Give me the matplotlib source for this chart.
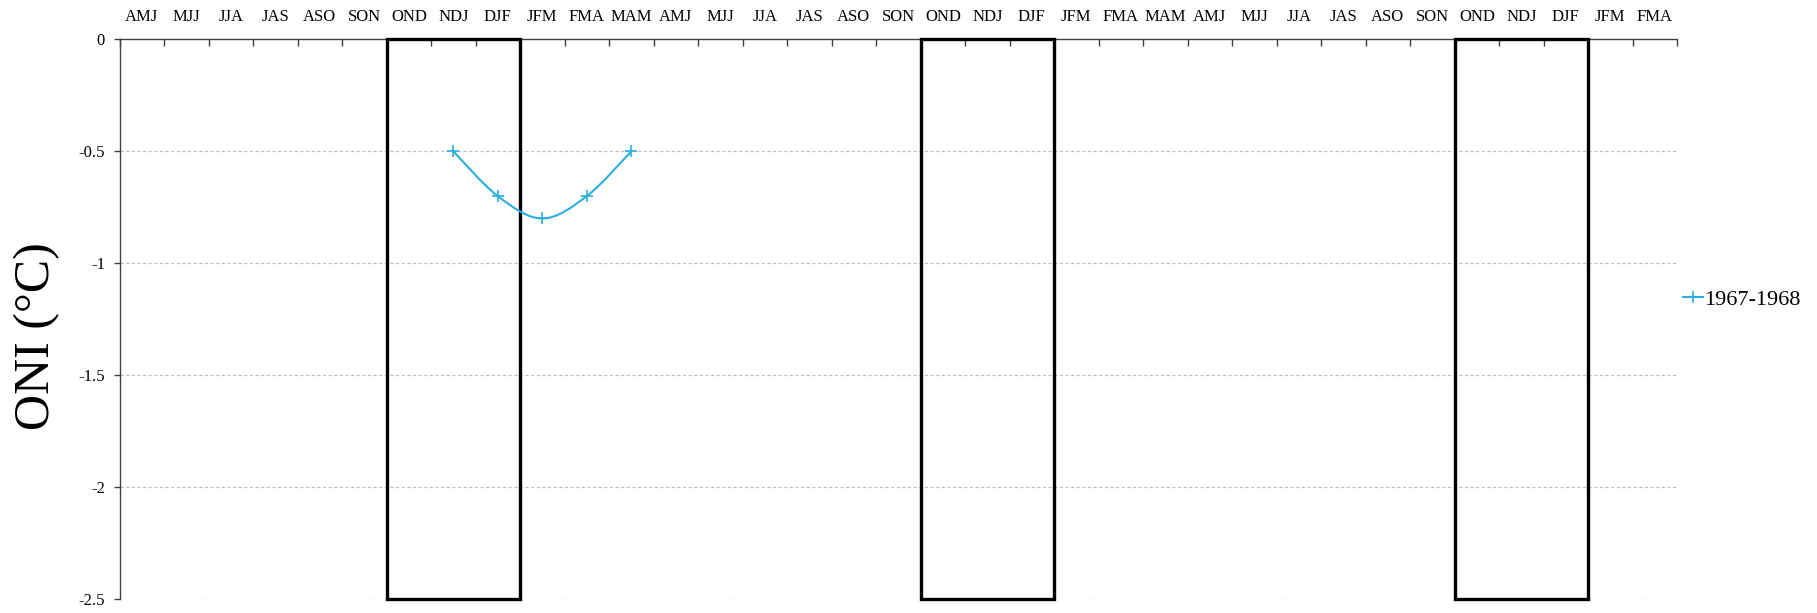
import matplotlib
matplotlib.use("Agg")

import matplotlib.pyplot as plt
from matplotlib.patches import Rectangle, PathPatch
from matplotlib.path import Path
from matplotlib.lines import Line2D

plt.rcParams["font.family"] = ["Liberation Serif", "DejaVu Serif"]

# three-month seasons along the top axis
seasons = ["AMJ", "MJJ", "JJA", "JAS", "ASO", "SON", "OND", "NDJ", "DJF", "JFM", "FMA", "MAM",
           "AMJ", "MJJ", "JJA", "JAS", "ASO", "SON", "OND", "NDJ", "DJF", "JFM", "FMA", "MAM",
           "AMJ", "MJJ", "JJA", "JAS", "ASO", "SON", "OND", "NDJ", "DJF", "JFM", "FMA"]

# ONI series 1967-1968
series_name = "1967-1968"
series_idx = [7, 8, 9, 10, 11]          # NDJ .. MAM of the first winter
series_oni = [-0.5, -0.7, -0.8, -0.7, -0.5]

# winter window outlined with a box (OND-NDJ-DJF)
winter = ["OND", "NDJ", "DJF"]

yticks = [0, -0.5, -1, -1.5, -2, -2.5]
ytick_labels = ["0", "-0.5", "-1", "-1.5", "-2", "-2.5"]
ymin, ymax = -2.5, 0

line_color = "#2BAEE0"

fig = plt.figure(figsize=(18.17, 6.13), dpi=100)
ax = fig.add_axes([0.0658, 0.0228, 0.923 - 0.0658, 0.9357 - 0.0228])

n = len(seasons)
ax.set_xlim(0, n)
ax.set_ylim(ymin, ymax)

# gridlines
for y in yticks[1:]:
    ax.axhline(y, color="#BFBFBF", lw=0.9, ls=(0, (2.5, 2)), zorder=1)

# winter boxes
i = 0
while i <= n - len(winter):
    if seasons[i:i + len(winter)] == winter:
        ax.add_patch(Rectangle((i, ymin), len(winter), ymax - ymin, fill=False,
                               ec="black", lw=2.4, zorder=3, clip_on=False))
        i += len(winter)
    else:
        i += 1

# smoothed series line (Catmull-Rom style bezier through the points)
xs = [k + 0.5 for k in series_idx]
pts = list(zip(xs, series_oni))
verts = [pts[0]]
codes = [Path.MOVETO]
for k in range(len(pts) - 1):
    p0 = pts[k - 1] if k > 0 else pts[k]
    p1 = pts[k]
    p2 = pts[k + 1]
    p3 = pts[k + 2] if k + 2 < len(pts) else pts[k + 1]
    c1 = (p1[0] + (p2[0] - p0[0]) / 6, p1[1] + (p2[1] - p0[1]) / 6)
    c2 = (p2[0] - (p3[0] - p1[0]) / 6, p2[1] - (p3[1] - p1[1]) / 6)
    verts += [c1, c2, p2]
    codes += [Path.CURVE4] * 3
ax.add_patch(PathPatch(Path(verts, codes), fill=False, ec=line_color, lw=1.5, zorder=4))
ax.plot(xs, series_oni, ls="none", marker="+", ms=9, mew=1.2, color=line_color, zorder=5)

# axes styling
for side in ["bottom", "right"]:
    ax.spines[side].set_visible(False)
ax.spines["top"].set_color("#404040")
ax.spines["top"].set_linewidth(1.0)
ax.spines["left"].set_color("#404040")
ax.spines["left"].set_linewidth(1.0)

ax.set_yticks(yticks)
ax.set_yticklabels(ytick_labels)
ax.tick_params(axis="y", direction="out", length=4.5, width=1, color="#404040",
               labelsize=12, pad=6)

ax.xaxis.set_ticks_position("top")
ax.set_xticks(range(n + 1))
ax.set_xticklabels([])
ax.set_xticks([k + 0.5 for k in range(n)], minor=True)
ax.set_xticklabels(seasons, minor=True)
ax.tick_params(axis="x", which="major", direction="in", length=5, width=1, color="#404040",
               top=True, bottom=False)
ax.tick_params(axis="x", which="minor", length=0, labelsize=12, pad=10.5, top=True, bottom=False,
               labeltop=True, labelbottom=False)

fig.text(0.0202, 0.451, "ONI (°C)", rotation=90, fontsize=36, ha="center", va="center")

handle = Line2D([], [], color=line_color, lw=1.5, marker="+", ms=9, mew=1.2)
fig.legend([handle], [series_name], loc="center left", bbox_to_anchor=(0.915, 0.511),
           frameon=False, fontsize=16, handlelength=0.9, handletextpad=0.05)

fig.savefig("out.png", dpi=100)
